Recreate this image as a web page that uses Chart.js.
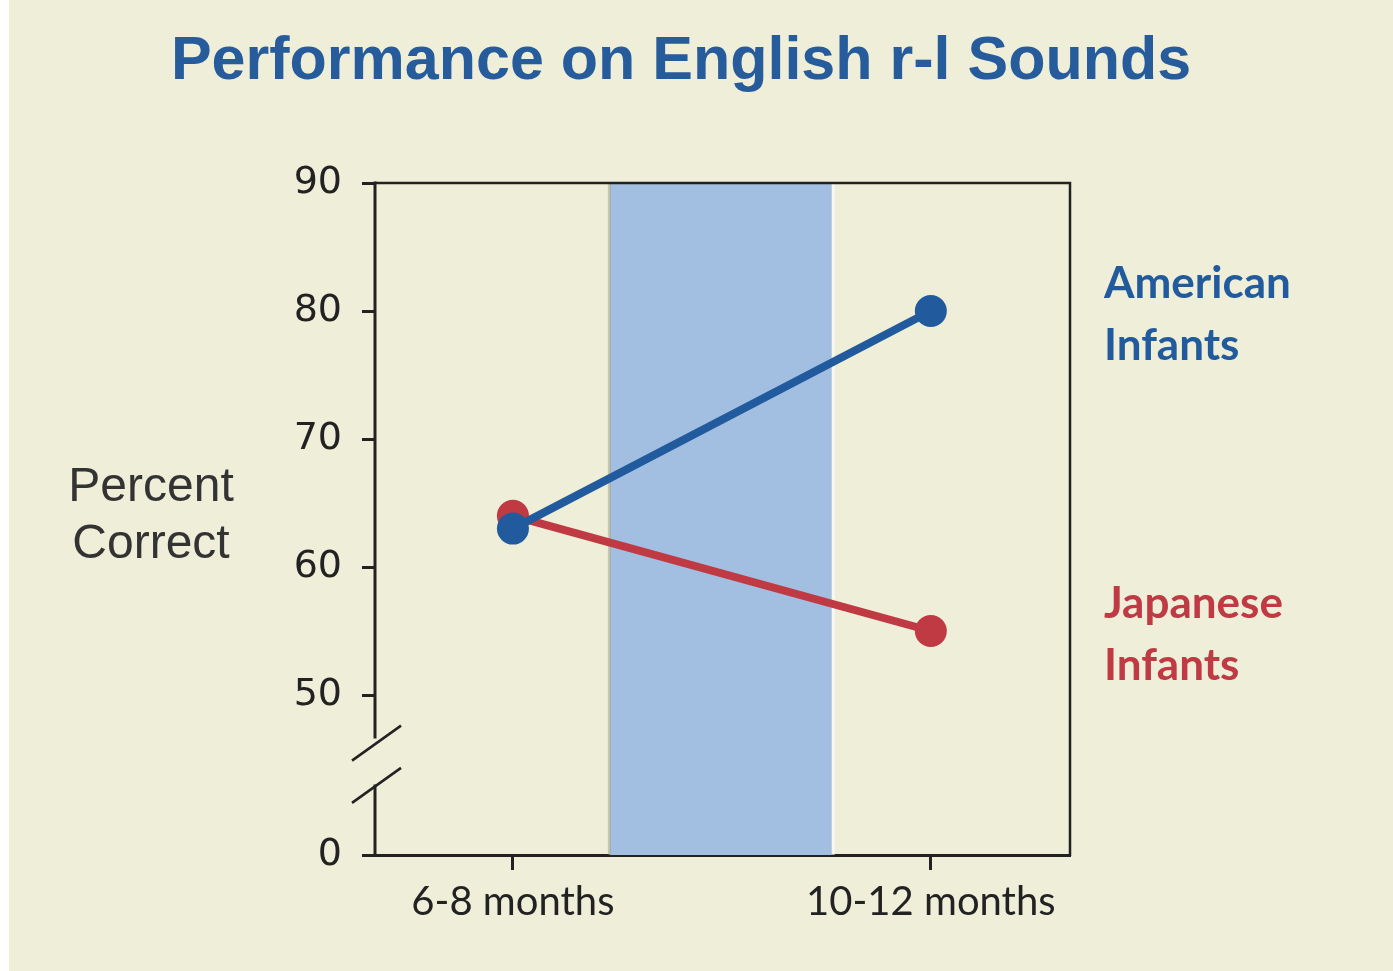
<!DOCTYPE html>
<html>
<head>
<meta charset="utf-8">
<title>Performance on English r-l Sounds</title>
<script src="https://cdn.jsdelivr.net/npm/chart.js@4.4.1/dist/chart.umd.min.js"></script>
<style>
  html, body { margin: 0; padding: 0; background: #ffffff; }
  #wrap { width: 1393px; height: 971px; }
</style>
</head>
<body>
<div id="wrap"><canvas id="chart"></canvas></div>
<script>
// data
var ageGroups = ['6-8 months', '10-12 months']
var americanScores = [63, 80]
var japaneseScores = [64, 55]
var yTicks = [50, 60, 70, 80, 90]
var yBreakBase = 37.5   // where the "0" sits below the axis break
var yBreakLabel = '0'
var shadedSpan = [0.232, 0.763]   // blue band between the two ages, in x units

var cream = '#eeeed9'
var ink = '#222222'
var blue = '#215b9e'
var red = '#bf3a43'

const bgPlugin = {
    id: 'bg',
    beforeDraw(chart) {
        var c = chart.ctx
        c.save()
        c.fillStyle = '#ffffff'
        c.fillRect(0, 0, chart.width, chart.height)
        c.fillStyle = cream
        c.fillRect(9, 0, chart.width - 9, chart.height)
        c.restore()
    }
}

const bandPlugin = {
    id: 'band',
    beforeDatasetsDraw(chart) {
        var c = chart.ctx, a = chart.chartArea, x = chart.scales.x
        var x0 = x.getPixelForValue(shadedSpan[0])
        var x1 = x.getPixelForValue(shadedSpan[1])
        c.save()
        c.fillStyle = '#a2bfe2'
        c.fillRect(x0, a.top, x1 - x0, a.bottom - a.top)
        c.fillStyle = 'rgba(150,150,120,0.45)'
        c.fillRect(x0 - 2, a.top, 3, a.bottom - a.top)
        c.fillStyle = 'rgba(255,255,255,0.6)'
        c.fillRect(x1, a.top, 3, a.bottom - a.top)
        c.restore()
    }
}

const framePlugin = {
    id: 'frame',
    afterDraw(chart) {
        var c = chart.ctx, a = chart.chartArea, y = chart.scales.y
        c.save()
        c.strokeStyle = ink
        c.lineCap = 'butt'
        // top + right frame
        c.lineWidth = 2.5
        c.beginPath()
        c.moveTo(a.left, a.top)
        c.lineTo(a.right, a.top)
        c.lineTo(a.right, a.bottom + 1)
        c.stroke()
        // left axis with a break
        var gTop = y.getPixelForValue(46.6)
        var gBot = y.getPixelForValue(43.0)
        c.lineWidth = 3
        c.beginPath()
        c.moveTo(a.left, a.top - 1.5)
        c.lineTo(a.left, gTop)
        c.moveTo(a.left, gBot)
        c.lineTo(a.left, a.bottom + 1.5)
        c.stroke()
        c.lineWidth = 2.5
        var crossA = y.getPixelForValue(46.2)
        var crossB = y.getPixelForValue(42.9)
        ;[crossA, crossB].forEach(function (cy) {
            c.beginPath()
            c.moveTo(a.left - 23, cy + 17)
            c.lineTo(a.left + 26, cy - 18)
            c.stroke()
        })
        c.restore()
    }
}

const textPlugin = {
    id: 'texts',
    afterDraw(chart) {
        var c = chart.ctx, y = chart.scales.y
        c.save()
        // title
        c.fillStyle = '#265c9b'
        c.font = 'bold 61px "Liberation Sans", Arial, sans-serif'
        c.textAlign = 'center'
        c.textBaseline = 'middle'
        c.fillText('Performance on English r-l Sounds', 681, 62)
        // y axis title, horizontal on two lines
        c.fillStyle = '#333333'
        c.font = '48px "Liberation Sans", Arial, sans-serif'
        c.fillText('Percent', 151, 488)
        c.fillText('Correct', 151, 545)
        // series labels next to the line ends
        c.textAlign = 'left'
        c.font = 'bold 44px Lato, "Open Sans", sans-serif'
        chart.data.datasets.forEach(function (ds) {
            var last = ds.data[ds.data.length - 1]
            var py = y.getPixelForValue(last.y)
            var parts = ds.label.split(' ')
            c.fillStyle = ds.borderColor
            c.fillText(parts[0], 1104, py - 27)
            c.fillText(parts[1], 1104, py + 35)
        })
        c.restore()
    }
}

var ctx = document.getElementById('chart')

var ds = [
    {label: 'American Infants', data: americanScores.map(function (v, i) { return {x: i, y: v} }),
     borderColor: blue, backgroundColor: blue},
    {label: 'Japanese Infants', data: japaneseScores.map(function (v, i) { return {x: i, y: v} }),
     borderColor: red, backgroundColor: red}
]

const config = {
    type: 'line',
    data: {datasets: ds},
    options: {
        responsive: true,
        maintainAspectRatio: false,
        animation: false,
        devicePixelRatio: 1,
        layout: {padding: {top: 183, right: 323, bottom: 0, left: 0}},
        elements: {
            line: {borderWidth: 8, tension: 0, borderCapStyle: 'round'},
            point: {radius: 16, hoverRadius: 16, borderWidth: 0}
        },
        plugins: {
            legend: {display: false},
            title: {display: false},
            tooltip: {enabled: false}
        },
        scales: {
            x: {
                type: 'linear',
                min: -0.33,
                max: 1.333,
                afterBuildTicks: function (s) { s.ticks = ageGroups.map(function (_, i) { return {value: i} }) },
                afterFit: function (s) { s.height = 116 },
                ticks: {
                    callback: function (v, i) { return ageGroups[i] },
                    color: ink,
                    font: {family: 'Lato, "Open Sans", sans-serif', size: 40},
                    padding: 8,
                    maxRotation: 0,
                    autoSkip: false
                },
                grid: {drawOnChartArea: false, tickLength: 15, tickWidth: 3, tickColor: ink},
                border: {display: true, width: 3, color: ink}
            },
            y: {
                type: 'linear',
                min: yBreakBase,
                max: 90,
                afterBuildTicks: function (s) {
                    s.ticks = [yBreakBase].concat(yTicks).map(function (v) { return {value: v} })
                },
                afterFit: function (s) { s.width = 375 },
                ticks: {
                    callback: function (v) { return v === yBreakBase ? yBreakLabel : v },
                    color: ink,
                    font: {family: '"DejaVu Sans", Verdana, sans-serif', size: 38},
                    padding: 20
                },
                grid: {drawOnChartArea: false, tickLength: 13, tickWidth: 3, tickColor: ink},
                border: {display: false}
            }
        }
    },
    plugins: [bgPlugin, bandPlugin, framePlugin, textPlugin]
}

var myChart = new Chart(ctx, config)
</script>
</body>
</html>
